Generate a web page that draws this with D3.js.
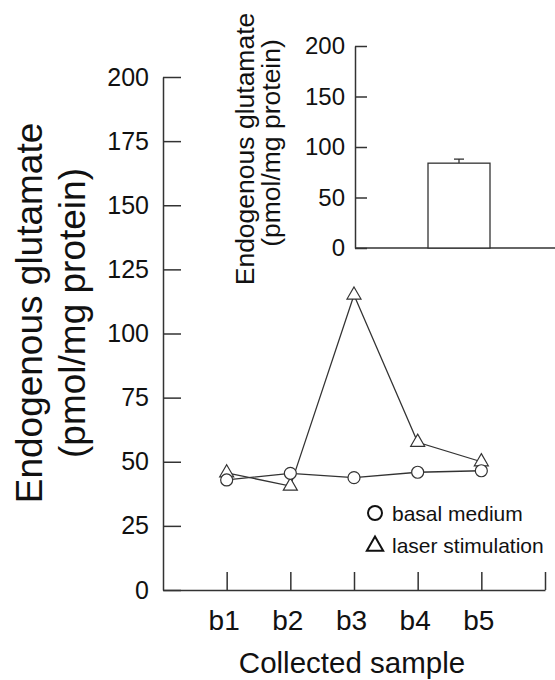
<!DOCTYPE html>
<html>
<head>
<meta charset="utf-8">
<script src="https://cdn.jsdelivr.net/npm/d3@7"></script>
<style>
  html, body { margin: 0; padding: 0; background: #fff; }
  svg { display: block; font-family: "Liberation Sans", Arial, sans-serif; }
  .axis path, .axis line { stroke: #333; stroke-width: 1.5; }
  .axis text { fill: #111; }
</style>
</head>
<body>
<svg id="chart" width="555" height="680"></svg>
<script>
// Collected samples b1..b5 (x positions 1..5 on a 0..6 axis)
const samples = ["b1", "b2", "b3", "b4", "b5"];
const samplePos = [1, 2, 3, 4, 5];
const basalMedium = [42.9, 45.5, 43.8, 45.9, 46.5];
const laserStimulation = [45.7, 40.5, 115, 57.6, 50];
const mainTicks = [0, 25, 50, 75, 100, 125, 150, 175, 200];

// Inset bar: mean with error
const insetCategories = ["laser"];
const insetMeans = [84];
const insetErrors = [4];
const insetTicks = [0, 50, 100, 150, 200];

const svg = d3.select("#chart");

// ---- Main line chart ----
const x = d3.scaleLinear().domain([0, 6]).range([163, 545]);
const y = d3.scaleLinear().domain([0, 200]).range([590, 77]);

const yAxis = d3.axisLeft(y).tickValues(mainTicks).tickSize(-18).tickSizeOuter(0).tickPadding(14);
svg.append("g").attr("class", "axis").attr("transform", `translate(${x(0)},0)`)
  .call(yAxis)
  .call(g => g.selectAll("text").style("font-size", "25px"));

const xAxis = d3.axisBottom(x).tickValues([1, 2, 3, 4, 5, 6]).tickSize(-18).tickSizeOuter(0).tickPadding(20)
  .tickFormat(d => samples[d - 1] || "");
svg.append("g").attr("class", "axis").attr("transform", `translate(0,${y(0)})`)
  .call(xAxis)
  .call(g => g.selectAll("text").style("font-size", "28px").attr("dx", "-3"));

svg.append("text").attr("x", 352).attr("y", 673).attr("text-anchor", "middle")
  .style("font-size", "29.5px").attr("fill", "#111").text("Collected sample");

const mainTitle = svg.append("text").attr("transform", "translate(0,313) rotate(-90)")
  .attr("text-anchor", "middle").style("font-size", "37px").attr("fill", "#111");
mainTitle.append("tspan").attr("x", 0).attr("y", 42).text("Endogenous glutamate");
mainTitle.append("tspan").attr("x", 0).attr("y", 85).text("(pmol/mg protein)");

const line = d3.line().x((d, i) => x(samplePos[i])).y(d => y(d));
svg.append("path").datum(laserStimulation).attr("d", line)
  .attr("fill", "none").attr("stroke", "#333").attr("stroke-width", 1.3);
svg.append("path").datum(basalMedium).attr("d", line)
  .attr("fill", "none").attr("stroke", "#333").attr("stroke-width", 1.3);

const tri = d3.symbol().type(d3.symbolTriangle).size(85);
svg.selectAll(".tri").data(laserStimulation).join("path").attr("class", "tri")
  .attr("d", tri).attr("transform", (d, i) => `translate(${x(samplePos[i])},${y(d)})`)
  .attr("fill", "#fff").attr("stroke", "#333").attr("stroke-width", 1.2);
svg.selectAll(".circ").data(basalMedium).join("circle").attr("class", "circ")
  .attr("cx", (d, i) => x(samplePos[i])).attr("cy", d => y(d)).attr("r", 6)
  .attr("fill", "#fff").attr("stroke", "#333").attr("stroke-width", 1.2);

// Legend
const legend = svg.append("g");
legend.append("circle").attr("cx", 375).attr("cy", 513).attr("r", 7)
  .attr("fill", "#fff").attr("stroke", "#111").attr("stroke-width", 2);
legend.append("path").attr("d", d3.symbol().type(d3.symbolTriangle).size(115)())
  .attr("transform", "translate(375,546)")
  .attr("fill", "#fff").attr("stroke", "#111").attr("stroke-width", 2);
legend.append("text").attr("x", 392).attr("y", 521).style("font-size", "21px").attr("fill", "#111").text("basal medium");
legend.append("text").attr("x", 392).attr("y", 553).style("font-size", "21px").attr("fill", "#111").text("laser stimulation");

// ---- Inset bar chart ----
const yi = d3.scaleLinear().domain([0, 200]).range([248, 46]);
const xi = d3.scaleBand().domain(insetCategories).range([355, 555])
  .paddingInner(0).paddingOuter(1.113).align(0.529);

svg.append("g").attr("class", "axis").attr("transform", "translate(355,0)")
  .call(d3.axisLeft(yi).tickValues(insetTicks).tickSize(-12).tickSizeOuter(0).tickPadding(10))
  .call(g => g.selectAll("text").style("font-size", "24px"));
svg.append("line").attr("x1", 355).attr("x2", 555).attr("y1", yi(0)).attr("y2", yi(0))
  .attr("stroke", "#333").attr("stroke-width", 1.5);

insetCategories.forEach((c, i) => {
  const cx = xi(c) + xi.bandwidth() / 2;
  svg.append("line").attr("x1", cx).attr("x2", cx)
    .attr("y1", yi(insetMeans[i])).attr("y2", yi(insetMeans[i] + insetErrors[i]))
    .attr("stroke", "#333").attr("stroke-width", 1.3);
  svg.append("line").attr("x1", cx - 5).attr("x2", cx + 5)
    .attr("y1", yi(insetMeans[i] + insetErrors[i])).attr("y2", yi(insetMeans[i] + insetErrors[i]))
    .attr("stroke", "#333").attr("stroke-width", 1.3);
  svg.append("rect").attr("x", xi(c)).attr("width", xi.bandwidth())
    .attr("y", yi(insetMeans[i])).attr("height", yi(0) - yi(insetMeans[i]))
    .attr("fill", "#fff").attr("stroke", "#333").attr("stroke-width", 1.3);
});

const insetTitle = svg.append("text").attr("transform", "translate(0,149) rotate(-90)")
  .attr("text-anchor", "middle").style("font-size", "26.5px").attr("fill", "#111");
insetTitle.append("tspan").attr("x", 0).attr("y", 254).text("Endogenous glutamate");
insetTitle.append("tspan").attr("x", 6).attr("y", 280).text("(pmol/mg protein)");
</script>
</body>
</html>
